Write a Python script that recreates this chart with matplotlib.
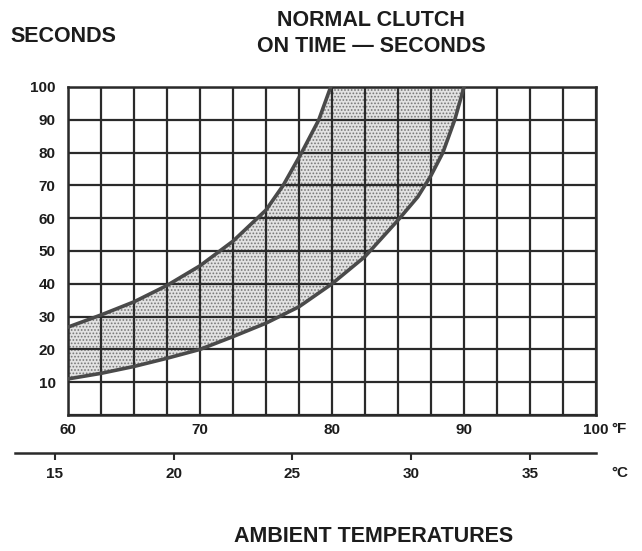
import matplotlib
matplotlib.use("Agg")
import matplotlib.pyplot as plt
import numpy as np

## Chart values
temps_f_upper = [60, 62.5, 65, 67.5, 70, 72.5, 75, 76.3, 77.7, 79.0, 79.9]
secs_upper = [26.8, 30.5, 34.5, 39.5, 45.5, 53, 62.5, 70, 80, 90, 100]

temps_f_lower = [60, 62.5, 65, 67.5, 70, 72.5, 75, 77.5, 80, 82.5, 85, 86.5, 87.5, 88.4, 89.3, 90]
secs_lower = [11, 12.7, 14.8, 17.3, 20, 23.9, 28, 33, 40, 48.3, 59.4, 66.5, 73, 80, 90, 100]

f_ticks = [60, 70, 80, 90, 100]
c_ticks = [15, 20, 25, 30, 35]
sec_ticks = [10, 20, 30, 40, 50, 60, 70, 80, 90, 100]

plt.rcParams['font.family'] = ['Liberation Sans', 'DejaVu Sans']
plt.rcParams['hatch.color'] = '#666666'
plt.rcParams['hatch.linewidth'] = 0.8

ink = '#1c1c1c'
W, H = 642, 551
fig = plt.figure(figsize=(W / 100, H / 100), dpi=100)

## main grid, placed in pixels
gx0, gx1, gy0, gy1 = 68, 596, 87, 415
ax = fig.add_axes([gx0 / W, 1 - gy1 / H, (gx1 - gx0) / W, (gy1 - gy0) / H])
ax.set_xlim(60, 100)
ax.set_ylim(0, 100)

# shaded band between the two curves
poly_x = temps_f_upper + temps_f_lower[::-1]
poly_y = secs_upper + secs_lower[::-1]
ax.fill(poly_x, poly_y, facecolor='#e2e2e2', hatch='.....', edgecolor='#777777',
        linewidth=0, zorder=1)

for xv in np.arange(60, 100.1, 2.5):
    ax.axvline(xv, color='#2a2a2a', lw=1.6, zorder=2)
for yv in range(0, 101, 10):
    ax.axhline(yv, color='#2a2a2a', lw=1.6, zorder=2)

ax.plot(temps_f_upper, secs_upper, color='#4a4a4a', lw=2.6, zorder=3, solid_joinstyle='round')
ax.plot(temps_f_lower, secs_lower, color='#4a4a4a', lw=2.6, zorder=3, solid_joinstyle='round')

for s in ax.spines.values():
    s.set_linewidth(1.8)
    s.set_color('#2a2a2a')

ax.set_xticks(f_ticks)
ax.set_xticklabels([str(t) for t in f_ticks])
ax.set_yticks(sec_ticks)
ax.set_yticklabels([str(t) for t in sec_ticks])
ax.tick_params(axis='x', length=0, pad=6, labelsize=11, labelcolor=ink)
ax.tick_params(axis='y', length=0, pad=9, labelsize=11, labelcolor=ink)
for lab in ax.get_xticklabels() + ax.get_yticklabels():
    lab.set_fontweight('bold')

## celsius scale line under the grid
cx0, cx1, cy = 15, 596, 453
px_per_f = (gx1 - gx0) / 40.0
f_left = 60 + (cx0 - gx0) / px_per_f
f_right = 60 + (cx1 - gx0) / px_per_f
cax = fig.add_axes([cx0 / W, 1 - cy / H, (cx1 - cx0) / W, 0.0001])
cax.set_xlim((f_left - 32) / 1.8, (f_right - 32) / 1.8)
cax.set_yticks([])
for k in ['top', 'left', 'right']:
    cax.spines[k].set_visible(False)
cax.spines['bottom'].set_linewidth(1.8)
cax.spines['bottom'].set_color('#2a2a2a')
cax.set_xticks(c_ticks)
cax.set_xticklabels([str(t) for t in c_ticks])
cax.tick_params(axis='x', direction='out', length=5, width=1.5, color='#2a2a2a',
                pad=5, labelsize=11, labelcolor=ink)
for lab in cax.get_xticklabels():
    lab.set_fontweight('bold')

## titles and unit marks
def txt(x, y, s, size=15.5, ha='center'):
    fig.text(x / W, 1 - y / H, s, ha=ha, va='center', fontsize=size,
             fontweight='bold', color=ink)

txt(10, 37, 'SECONDS', ha='left')
txt(371, 20, 'NORMAL CLUTCH')
txt(371, 47, 'ON TIME \u2014 SECONDS')
txt(374, 537, 'AMBIENT TEMPERATURES')
txt(611, 429, '\u00b0F', size=11, ha='left')
txt(611, 473, '\u00b0C', size=11, ha='left')

fig.savefig('out.png', dpi=100, facecolor='white')
